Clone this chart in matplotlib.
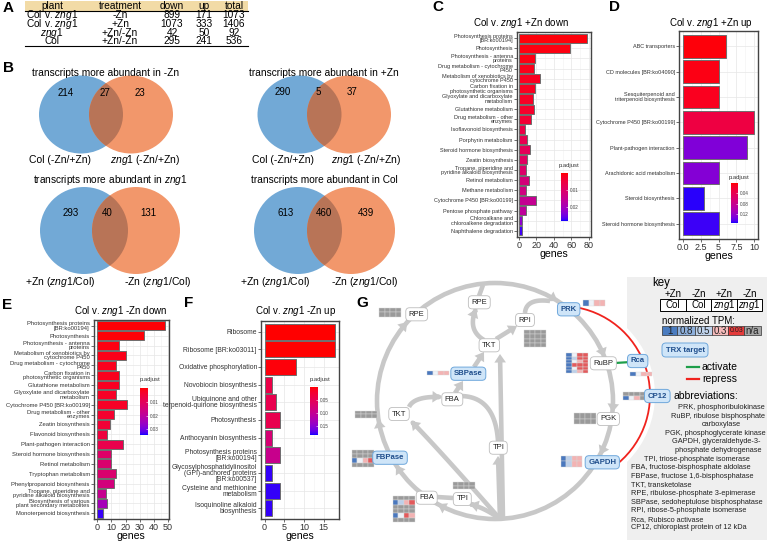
import numpy as np
import matplotlib
matplotlib.use('Agg')
import matplotlib.pyplot as plt
from matplotlib.patches import Rectangle, Ellipse, Circle, Arc, Polygon
from matplotlib.colors import ListedColormap, Normalize
from matplotlib.cm import ScalarMappable

plt.rcParams['font.family'] = ['Liberation Sans', 'DejaVu Sans']
plt.rcParams['mathtext.fontset'] = 'custom'
plt.rcParams['mathtext.rm'] = 'Liberation Sans'
plt.rcParams['mathtext.it'] = 'Liberation Sans:italic'
plt.rcParams['mathtext.bf'] = 'Liberation Sans:bold'

Z = r'$\mathit{zng1}$'

# ---------------- data ----------------
table_header = ['plant', 'treatment', 'down', 'up', 'total']
table_plant = ['Col v. ' + Z, 'Col v. ' + Z, Z, 'Col']
table_treatment = ['-Zn', '+Zn', '+Zn/-Zn', '+Zn/-Zn']
table_down = [899, 1073, 42, 295]
table_up = [171, 333, 50, 241]
table_total = [1073, 1406, 92, 536]

venn_titles = ['transcripts more abundant in -Zn', 'transcripts more abundant in +Zn',
               'transcripts more abundant in ' + Z, 'transcripts more abundant in Col']
venn_left_only = [214, 290, 293, 613]
venn_both = [27, 5, 40, 460]
venn_right_only = [23, 37, 131, 439]
venn_left_labels = ['Col (-Zn/+Zn)', 'Col (-Zn/+Zn)', '+Zn (' + Z + '/Col)', '+Zn (' + Z + '/Col)']
venn_right_labels = [Z + ' (-Zn/+Zn)', Z + ' (-Zn/+Zn)', '-Zn (' + Z + '/Col)', '-Zn (' + Z + '/Col)']

C_terms = ['Photosynthesis proteins\n[BR:ko00194]', 'Photosynthesis', 'Photosynthesis - antenna\nproteins',
           'Drug metabolism - cytochrome\nP450', 'Metabolism of xenobiotics by\ncytochrome P450',
           'Carbon fixation in\nphotosynthetic organisms', 'Glyoxylate and dicarboxylate\nmetabolism',
           'Glutathione metabolism', 'Drug metabolism - other\nenzymes', 'Isoflavonoid biosynthesis',
           'Porphyrin metabolism', 'Steroid hormone biosynthesis', 'Zeatin biosynthesis',
           'Tropane, piperidine and\npyridine alkaloid biosynthesis', 'Retinol metabolism',
           'Methane metabolism', 'Cytochrome P450 [BR:ko00199]', 'Pentose phosphate pathway',
           'Chloroalkane and\nchloroalkene degradation', 'Naphthalene degradation']
C_genes = [78, 59, 18, 17, 24, 18, 16, 17, 14, 7, 9, 13, 9, 8, 12, 8, 19, 8, 4, 3]
C_padj = [0.0005, 0.0008, 0.001, 0.0015, 0.002, 0.002, 0.0025, 0.003, 0.004, 0.006, 0.007,
          0.008, 0.009, 0.010, 0.012, 0.013, 0.015, 0.016, 0.022, 0.027]

D_terms = ['ABC transporters', 'CD molecules [BR:ko04090]', 'Sesquiterpenoid and\ntriterpenoid biosynthesis',
           'Cytochrome P450 [BR:ko00199]', 'Plant-pathogen interaction', 'Arachidonic acid metabolism',
           'Steroid biosynthesis', 'Steroid hormone biosynthesis']
D_genes = [6, 5, 5, 10, 9, 5, 3, 5]
D_padj = [0.003, 0.006, 0.01, 0.03, 0.13, 0.128, 0.152, 0.15]

E_terms = ['Photosynthesis proteins\n[BR:ko00194]', 'Photosynthesis', 'Photosynthesis - antenna\nproteins',
           'Metabolism of xenobiotics by\ncytochrome P450', 'Drug metabolism - cytochrome\nP450',
           'Carbon fixation in\nphotosynthetic organisms', 'Glutathione metabolism',
           'Glyoxylate and dicarboxylate\nmetabolism', 'Cytochrome P450 [BR:ko00199]',
           'Drug metabolism - other\nenzymes', 'Zeatin biosynthesis', 'Flavonoid biosynthesis',
           'Plant-pathogen interaction', 'Steroid hormone biosynthesis', 'Retinol metabolism',
           'Tryptophan metabolism', 'Phenylpropanoid biosynthesis',
           'Tropane, piperidine and\npyridine alkaloid biosynthesis',
           'Biosynthesis of various\nplant secondary metabolites', 'Monoterpenoid biosynthesis']
E_genes = [48, 33, 15, 20, 13, 15, 15, 13, 21, 12, 9, 7, 18, 10, 10, 13, 12, 6, 7, 4]
E_padj = [0.0003, 0.0005, 0.001, 0.0015, 0.002, 0.002, 0.0025, 0.003, 0.003, 0.004, 0.005, 0.006,
          0.008, 0.012, 0.013, 0.013, 0.015, 0.018, 0.024, 0.033]

F_terms = ['Ribosome', 'Ribosome [BR:ko03011]', 'Oxidative phosphorylation', 'Novobiocin biosynthesis',
           'Ubiquinone and other\nterpenoid-quinone biosynthesis', 'Photosynthesis', 'Anthocyanin biosynthesis',
           'Photosynthesis proteins\n[BR:ko00194]',
           'Glycosylphosphatidylinositol\n(GPI)-anchored proteins\n[BR:ko00537]',
           'Cysteine and methionine\nmetabolism', 'Isoquinoline alkaloid\nbiosynthesis']
F_genes = [18, 18, 8, 2, 3, 4, 2, 4, 2, 4, 2]
F_padj = [0.0001, 0.0001, 0.003, 0.04, 0.045, 0.045, 0.075, 0.095, 0.18, 0.18, 0.18]

# panel G
node_names = ['RPE', 'RPE', 'RPI', 'PRK', 'TKT', 'SBPase', 'FBA', 'TKT', 'RuBP', 'PGK', 'TPI',
              'FBPase', 'GAPDH', 'FBA', 'TPI', 'Rca', 'CP12']
node_trx = [False, False, False, True, False, True, False, False, False, False, False,
            True, True, False, False, True, True]
grid_names = ['RPE', 'RPI', 'PRK', 'RuBP', 'SBPase', 'TKT', 'FBPase', 'FBA', 'TPI', 'PGK', 'GAPDH', 'Rca', 'CP12']
grid_cells = [['gggg', 'gggg'], ['gggg'] * 4, ['Bwrr'],
              ['BwRR', 'BbRR', 'BwrR', 'BRRR', 'BwRR', 'BbrR'], ['Bwrr'], ['gggg', 'gggg'],
              ['gggg', 'gggg', 'BwrR', 'gggg'], ['gggg', 'BbrR', 'gggg', 'gggg', 'BwRr', 'gggg'],
              ['gggg', 'gggg'], ['gggg', 'gggg'], ['Bbrr', 'Bbrr'], ['Bwrr'], ['gggg', 'Bwrg']]

key_conditions = ['+Zn', '-Zn', '+Zn', '-Zn']
key_plants = ['Col', 'Col', Z, Z]
tpm_labels = ['1', '0.8', '0.5', '0.3', '0.03', 'n/a']
abbrev_lines = ['PRK, phosphoribulokinase', 'RuBP, ribulose bisphosphate', 'carboxylase',
                'PGK, phosphoglycerate kinase', 'GAPDH, glyceraldehyde-3-', 'phosphate dehydrogenase',
                'TPI, triose-phosphate isomerase', 'FBA, fructose-bisphosphate aldolase',
                'FBPase, fructose 1,6-bisphosphatase', 'TKT, transketolase',
                'RPE, ribulose-phosphate 3-epimerase', 'SBPase, sedoheptulose bisphosphatase',
                'RPI, ribose-5-phosphate isomerase', 'Rca, Rubisco activase',
                'CP12, chloroplast protein of 12 kDa']

# ---------------- colormap (Lab interpolation red -> blue) ----------------
_M = np.array([[0.4124564, 0.3575761, 0.1804375], [0.2126729, 0.7151522, 0.0721750],
               [0.0193339, 0.1191920, 0.9503041]])
_WP = np.array([0.95047, 1.0, 1.08883])


def _rgb2lab(rgb):
    c = np.asarray(rgb, float)
    lin = np.where(c <= 0.04045, c / 12.92, ((c + 0.055) / 1.055) ** 2.4)
    xyz = _M @ lin / _WP
    d = 6 / 29
    f = np.where(xyz > d ** 3, np.cbrt(xyz), xyz / (3 * d * d) + 4 / 29)
    return np.array([116 * f[1] - 16, 500 * (f[0] - f[1]), 200 * (f[1] - f[2])])


def _lab2rgb(lab):
    L, a, b = lab
    fy = (L + 16) / 116
    f = np.array([fy + a / 500, fy, fy - b / 200])
    d = 6 / 29
    xyz = np.where(f > d, f ** 3, 3 * d * d * (f - 4 / 29)) * _WP
    lin = np.clip(np.linalg.solve(_M, xyz), 0, 1)
    return np.clip(np.where(lin <= 0.0031308, 12.92 * lin, 1.055 * lin ** (1 / 2.4) - 0.055), 0, 1)


_l0, _l1 = _rgb2lab([1, 0, 0]), _rgb2lab([0, 0, 1])
cmap = ListedColormap([_lab2rgb(_l0 + (_l1 - _l0) * s) for s in np.linspace(0, 1, 256)])

# ---------------- figure ----------------
W, H = 767, 543
fig = plt.figure(figsize=(W / 100, H / 100), dpi=100)
ov = fig.add_axes([0, 0, 1, 1])
ov.set_xlim(0, W)
ov.set_ylim(H, 0)
ov.axis('off')


def letter(x, y, s):
    ov.text(x, y, s, fontsize=11, fontweight='bold', ha='center', va='center')


for x, y, s in [(8, 8, 'A'), (8, 68, 'B'), (438, 7, 'C'), (615, 7, 'D'), (7, 305, 'E'), (189, 303, 'F'), (362, 303, 'G')]:
    letter(x, y, s)

# ---- panel A table ----
ov.add_patch(Rectangle((25, 0.5), 223, 10.5, fc='#F2DBA6', ec='none'))
ov.plot([25, 248], [11, 11], color='black', lw=0.8)
ov.plot([25, 248], [46, 46], color='black', lw=0.8)
col_x = [52, 120, 172, 204, 234]
for x, h in zip(col_x, table_header):
    ov.text(x, 6, h, fontsize=7.3, ha='center', va='center')
row_y = [15.5, 24.2, 32.8, 41.4]
for i, y in enumerate(row_y):
    vals = [table_plant[i], table_treatment[i], str(table_down[i]), str(table_up[i]), str(table_total[i])]
    for x, v in zip(col_x, vals):
        ov.text(x, y, v, fontsize=7.3, ha='center', va='center')

# ---- panel B venns ----
BLUE, ORANGE, OVER = '#72A9D6', '#F2976B', '#B87457'
venn_geo = [dict(c1=81, c2=131, cy=114.5, w=84, h=78, ty=72.5, ly=160, nx=(66, 105, 140), ny=93, lx=(60, 145)),
            dict(c1=299.5, c2=349, cy=114.5, w=84, h=78, ty=72.5, ly=160, nx=(283, 318, 352), ny=92, lx=(283, 366)),
            dict(c1=84, c2=136, cy=230.5, w=88, h=87, ty=180, ly=282, nx=(71, 107, 148), ny=213, lx=(60, 158)),
            dict(c1=298, c2=351, cy=230.5, w=88, h=87, ty=180, ly=282, nx=(286, 324, 366), ny=213, lx=(275, 365))]
for i, g in enumerate(venn_geo):
    e1 = Ellipse((g['c1'], g['cy']), g['w'], g['h'], fc=BLUE, ec='none', zorder=1)
    ov.add_patch(e1)
    e2 = Ellipse((g['c2'], g['cy']), g['w'], g['h'], fc=ORANGE, ec='none', zorder=1)
    ov.add_patch(e2)
    e3 = Ellipse((g['c2'], g['cy']), g['w'], g['h'], fc=OVER, ec='none', zorder=1.5)
    ov.add_patch(e3)
    e3.set_clip_path(e1)
    ov.text((g['c1'] + g['c2']) / 2, g['ty'], venn_titles[i], fontsize=7.3, ha='center', va='center')
    for x, v in zip(g['nx'], [venn_left_only[i], venn_both[i], venn_right_only[i]]):
        ov.text(x, g['ny'], str(v), fontsize=7, ha='center', va='center', zorder=3)
    ov.text(g['lx'][0], g['ly'], venn_left_labels[i], fontsize=7.5, ha='center', va='center')
    ov.text(g['lx'][1], g['ly'], venn_right_labels[i], fontsize=7.5, ha='center', va='center')


# ---- bar panels ----
def bar_panel(box, title, tpos, terms, genes, padj, xlim, ticks, tlabels, vmax, cticks,
              cbox, ppos, fs):
    l, t, r, b = box
    ax = fig.add_axes([l / W, 1 - b / H, (r - l) / W, (b - t) / H])
    norm = Normalize(0, vmax)
    n = len(terms)
    y = np.arange(n)
    ax.barh(y, genes, height=0.9, color=cmap(norm(np.array(padj))), edgecolor='#6e6e6e',
            linewidth=0.7, zorder=3)
    ax.set_ylim(n - 0.4, -0.6)
    ax.set_xlim(*xlim)
    ax.set_yticks(y)
    ax.set_yticklabels(terms, fontsize=fs, color='#333333')
    for tl in ax.get_yticklabels():
        tl.set_linespacing(0.82)
    ax.set_xticks(ticks)
    ax.set_xticklabels(tlabels, fontsize=6.5, color='#333333')
    mids = [(ticks[k] + ticks[k + 1]) / 2 for k in range(len(ticks) - 1)]
    ax.set_xticks(mids, minor=True)
    ax.grid(which='major', color='#e6e6e6', lw=0.5, zorder=0)
    ax.grid(which='minor', axis='x', color='#f2f2f2', lw=0.4, zorder=0)
    ax.tick_params(axis='both', which='major', length=2, width=0.5, color='#333333', pad=1)
    ax.tick_params(which='minor', length=0)
    for s in ax.spines.values():
        s.set_color('#444444')
        s.set_linewidth(1.0)
    ax.set_xlabel('genes', fontsize=7.6, labelpad=-0.5)
    fig.text(tpos[0] / W, 1 - tpos[1] / H, title, fontsize=7, ha='center', va='center')
    cl, ct, cr, cb_ = cbox
    cax = fig.add_axes([cl / W, 1 - cb_ / H, (cr - cl) / W, (cb_ - ct) / H])
    cbar = fig.colorbar(ScalarMappable(norm=norm, cmap=cmap), cax=cax)
    cax.set_ylim(vmax, 0)
    cbar.set_ticks(cticks)
    cbar.set_ticklabels(['%.2f' % c for c in cticks])
    cax.tick_params(labelsize=3.3, length=1.5, width=0.4, color='white', direction='in', pad=1.5,
                    labelcolor='#444444')
    cbar.outline.set_visible(False)
    fig.text(ppos[0] / W, 1 - ppos[1] / H, 'p.adjust', fontsize=4.2, ha='center', va='center',
             color='#333333')
    return ax


bar_panel((517, 32, 591, 237), 'Col v. ' + Z + ' +Zn down', (521, 23), C_terms, C_genes, C_padj,
          (-2.2, 82.5), [0, 20, 40, 60, 80], ['0', '20', '40', '60', '80'], 0.028, [0.01, 0.02],
          (561, 173, 568, 221), (569, 166), 4.0)
bar_panel((679, 31, 758, 239), 'Col v. ' + Z + ' +Zn up', (710.5, 23), D_terms, D_genes, D_padj,
          (-0.5, 10.5), [0, 2.5, 5, 7.5, 10], ['0.0', '2.5', '5', '7.5', '10'], 0.155,
          [0.04, 0.08, 0.12], (731, 183, 738, 223), (739, 178), 4.0)
bar_panel((94, 320, 168.5, 519), 'Col v. ' + Z + ' -Zn down', (121, 311.5), E_terms, E_genes, E_padj,
          (-2.4, 50.4), [0, 10, 20, 30, 40, 50], ['0', '10', '20', '30', '40', '50'], 0.034,
          [0.01, 0.02, 0.03], (140, 388, 148, 435), (150, 380), 4.2)
bar_panel((261, 321, 339, 519), 'Col v. ' + Z + ' -Zn up', (296, 311.5), F_terms, F_genes, F_padj,
          (-0.9, 18.9), [0, 5, 10, 15], ['0', '5', '10', '15'], 0.185, [0.05, 0.10, 0.15],
          (310, 387, 318, 435), (320, 379), 4.9)

# ---- panel G ----
GRAY = '#C8C8C8'
LW = 3.3
HL, HW = 8.5, 5.8


def head(tip, d, color=GRAY, z=3):
    d = np.asarray(d, float)
    d = d / np.hypot(*d)
    p = np.array([-d[1], d[0]])
    tip = np.asarray(tip, float)
    base = tip - d * HL
    ov.add_patch(Polygon([tip, base + p * HW, base - p * HW], closed=True, fc=color, ec='none', zorder=z))


def path(pts, arrow=True):
    pts = np.array(pts, float)
    if arrow:
        tip = pts[-1].copy()
        d = pts[-1] - pts[-2]
        d = d / np.hypot(*d)
        pts[-1] = tip - d * HL * 0.7
        head(tip, d)
    ov.plot(pts[:, 0], pts[:, 1], color=GRAY, lw=LW, solid_capstyle='butt', zorder=2)


def bez(p0, p1, p2, n=30):
    t = np.linspace(0, 1, n)[:, None]
    p0, p1, p2 = map(np.array, (p0, p1, p2))
    return (1 - t) ** 2 * p0 + 2 * (1 - t) * t * p1 + t ** 2 * p2


# key background
ov.add_patch(Rectangle((627, 277), 140, 263, fc='#EFEFEF', ec='none', zorder=0))
ov.add_patch(Circle((561, 395), 94, fc='white', ec='none', zorder=0.5))

CX, CY, R = 495, 401, 118
ov.add_patch(Circle((CX, CY), R, fill=False, ec=GRAY, lw=LW, zorder=2))
for tdeg in [-58, -22, 5.5, 27, 119, 147, 171, 222]:
    t = np.radians(tdeg)
    head((CX + R * np.cos(t), CY + R * np.sin(t)), (-np.sin(t), np.cos(t)))

# inner arrows
path([(503, 519), (500, 354)])
path([(500, 519), (498, 456)])
path(bez((500, 519), (435, 445), (411, 421)))
path(bez((500, 519), (485, 508), (470, 504)))
path([(453, 498), (437, 497)], arrow=False)
path(bez((498, 441), (495, 396), (460, 396)), arrow=False)
path(bez((409, 407), (414, 396), (441, 397)))
path([(455, 393), (463, 381)])
path([(474, 367), (484, 352)])
path(bez((484, 340), (467, 330), (476, 309)))
path([(496, 339), (517, 326)])
path(bez((525, 313), (526, 298), (550, 301)), arrow=False)
path([(479, 296), (483, 285)], arrow=False)

# repress / activate lines
ov.add_patch(Arc((561, 395), 178, 178, theta1=-79, theta2=50, color='#F0231E', lw=1.3, zorder=2))
ov.plot([615, 631], [363, 362], color='#1E9E4A', lw=1.6, zorder=2)

node_x = [416.7, 479.3, 525, 568.7, 489.3, 468.3, 452.3, 399, 603.3, 608.3, 498.3, 390, 602.3,
          426.7, 462.3, 637.7, 657.3]
node_y = [314.3, 302.3, 320, 309.3, 345.3, 373.7, 399.3, 414, 363.3, 419, 447.7, 457.7, 462.3,
          497.7, 499, 361, 396]
for name, x, y, trx in zip(node_names, node_x, node_y, node_trx):
    if trx:
        ov.text(x, y, name, fontsize=5.6, fontweight='bold', color='#1F4E8C', ha='center', va='center',
                zorder=6, bbox=dict(boxstyle='round,pad=0.4,rounding_size=0.5', fc='#CFE5F8',
                                    ec='#6FA8DC', lw=0.7))
    else:
        ov.text(x, y, name, fontsize=5.5, color='#222222', ha='center', va='center', zorder=6,
                bbox=dict(boxstyle='round,pad=0.4,rounding_size=0.5', fc='white', ec='#BDBDBD', lw=0.6))

CELL = {'g': '#9A9A9A', 'B': '#4A78BE', 'b': '#BCD0EA', 'w': '#EEF2F8', 'r': '#F3B3B3', 'R': '#E35A5C'}
grid_boxes = [(379, 307.5, 22, 9), (524.3, 330, 22, 17), (583.3, 300, 22, 6), (566, 353.3, 22, 20),
              (427.3, 370.7, 22, 4), (355, 411, 22, 6.5), (351.7, 450, 22, 16.7), (392.7, 495.7, 22, 26.6),
              (452.7, 482.3, 22, 6.7), (574, 413.3, 22, 10.7), (561, 456, 21.3, 10.7), (630, 371.7, 22, 4.3),
              (623.3, 391.7, 21.7, 8.3)]
for (x0, y0, w, h), rows in zip(grid_boxes, grid_cells):
    nr = len(rows)
    for i, row in enumerate(rows):
        for j, c in enumerate(row):
            ov.add_patch(Rectangle((x0 + j * w / 4, y0 + i * h / nr), w / 4, h / nr, fc=CELL[c],
                                   ec='#D9D9D9', lw=0.3, zorder=4))

# ---- key ----
ov.text(652, 283, 'key', fontsize=8.3, ha='left', va='center', zorder=7)
for x, s in zip([673, 698.5, 724, 749.5], key_conditions):
    ov.text(x, 294, s, fontsize=7, ha='center', va='center', zorder=7)
ov.add_patch(Rectangle((660, 299), 102, 12, fc='white', ec='black', lw=0.7, zorder=7))
for x in [686, 711, 737]:
    ov.plot([x, x], [299, 311], color='black', lw=0.7, zorder=7)
for x, s in zip([673, 698.5, 724, 749.5], key_plants):
    ov.text(x, 305.3, s, fontsize=7, ha='center', va='center', zorder=8)
ov.text(662, 320.5, 'normalized TPM:', fontsize=7, ha='left', va='center', zorder=7)
tpm_edges = [662.3, 677.3, 695, 712.3, 728.3, 744, 760.7]
tpm_colors = ['#4A7CC0', '#8DAFDB', '#BED2EB', '#F5BABA', '#E53B3B', '#A6A6A6']
for k, s in enumerate(tpm_labels):
    ov.add_patch(Rectangle((tpm_edges[k], 325.5), tpm_edges[k + 1] - tpm_edges[k], 9.5, fc=tpm_colors[k],
                           ec='#333333', lw=0.5, zorder=7))
    ov.text((tpm_edges[k] + tpm_edges[k + 1]) / 2, 330.5, s, fontsize=5 if s == '0.03' else 7,
            ha='center', va='center', zorder=8, color='#222222')
ov.text(685, 350, 'TRX target', fontsize=5.6, fontweight='bold', color='#1F4E8C', ha='center', va='center',
        zorder=7, bbox=dict(boxstyle='round,pad=0.45,rounding_size=0.5', fc='#CFE5F8', ec='#6FA8DC', lw=0.7))
ov.plot([687, 699], [367, 367], color='#1E9E4A', lw=1.6, zorder=7)
ov.text(702, 367, 'activate', fontsize=7.5, ha='left', va='center', zorder=7)
ov.plot([687, 699], [379, 379], color='#F0231E', lw=1.6, zorder=7)
ov.text(702, 379, 'repress', fontsize=7.5, ha='left', va='center', zorder=7)
ov.text(673, 396, 'abbreviations:', fontsize=7.5, ha='left', va='center', zorder=7)
# (x, alignment) per line; first lines wrap around the circle
abbrev_x = [764.3, 765, 721, 765.5, 760, 761.7, 644] + [630.7] * 8
abbrev_ha = ['right', 'right', 'center', 'right', 'right', 'right'] + ['left'] * 9
abbrev_y = [407.5 + 8.6 * k for k in range(15)]
for s, x, y, ha in zip(abbrev_lines, abbrev_x, abbrev_y, abbrev_ha):
    ov.text(x, y, s, fontsize=5.3, ha=ha, va='center', zorder=7, color='#222222')

fig.savefig('out.png', dpi=100)
